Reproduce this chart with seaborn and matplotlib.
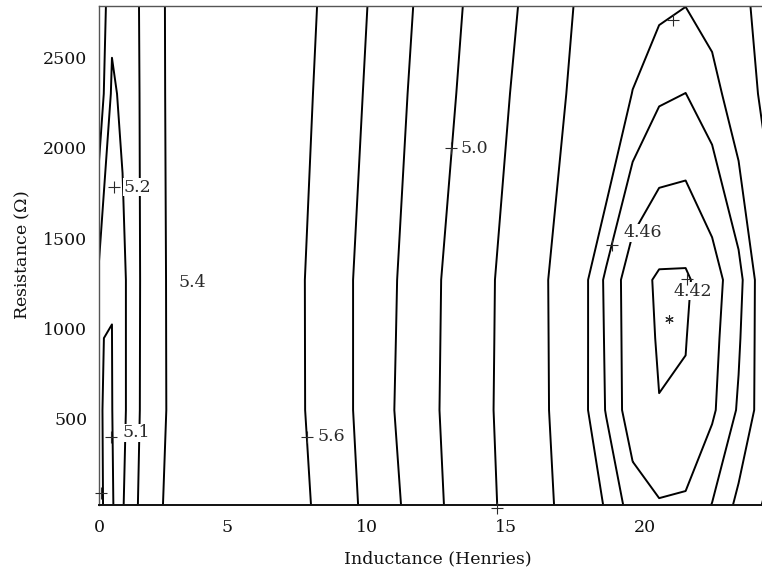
import matplotlib
matplotlib.use("Agg")
import matplotlib.pyplot as plt
import numpy as np
import seaborn as sns

# Sampling grid: inductance (H) columns and resistance (ohm) rows
inductance = [0.4, 0.87, 1.25, 1.62, 2.2, 3.3, 7.2, 8.9, 10.4, 12.1, 14.0, 16.0,
              17.9, 18.6, 19.55, 20.5, 21.45, 22.4, 23.35, 24.3]
resistance = [20, 546, 945, 1268, 2300, 2787]

# Response surface, one list per resistance row (same order as inductance)
z_r20 = [5.0131, 4.972, 5.184, 5.332, 5.551, 5.6588, 5.7042, 5.4855, 5.3252, 5.0718,
         4.8712, 4.6648, 4.4961, 4.477, 4.4505, 4.4415, 4.4431, 4.4606, 4.4852, 4.6166]
z_r546 = [5.0019, 4.995, 5.151, 5.302, 5.5294, 5.6547, 5.663, 5.4845, 5.2801, 5.0531,
          4.859, 4.6482, 4.4816, 4.4587, 4.4275, 4.4204, 4.4219, 4.4364, 4.4625, 4.4922]
z_r945 = [5.0005, 4.9992, 5.1521, 5.2997, 5.5274, 5.6575, 5.6661, 5.4769, 5.2908, 5.0558,
          4.8641, 4.6462, 4.4818, 4.4572, 4.4274, 4.4187, 4.4194, 4.4333, 4.4574, 4.4947]
z_r1268 = [5.1668, 5.0026, 5.153, 5.2979, 5.5257, 5.6597, 5.6687, 5.4708, 5.2995, 5.0579,
           4.8682, 4.6445, 4.4819, 4.4559, 4.4274, 4.4174, 4.4173, 4.4308, 4.4532, 4.4967]
z_r2300 = [5.539, 5.168, 5.2349, 5.3353, 5.4925, 5.6969, 5.6974, 5.5094, 5.3399, 5.1187,
           4.9177, 4.7128, 4.5295, 4.5144, 4.4788, 4.4631, 4.4598, 4.4710, 4.4951, 4.6383]
z_r2787 = [5.58, 5.246, 5.2735, 5.353, 5.4769, 5.7145, 5.711, 5.5276, 5.359, 5.1474,
           4.941, 4.745, 4.552, 4.542, 4.5031, 4.4847, 4.4802, 4.4899, 4.5148, 4.7051]

levels = [4.42, 4.44, 4.46, 4.48, 4.6, 4.8, 5.0, 5.2, 5.4, 5.6]

# Contour labels: anchor point (+), text position and text
label_anchor_L = [0.944, 0.836, 7.869, 13.036, 18.812, 21.503]
label_anchor_R = [1783, 397, 397, 1999, 1461, 1273]
label_text_L = [1.787, 1.733, 8.748, 13.861, 19.907, 21.719, 3.760]
label_text_R = [1783, 419, 397, 1999, 1528, 1206, 1251]
label_text = ["5.2", "5.1", "5.6", "5.0", "4.46", "4.42", "5.4"]

# Label anchors whose text falls outside the frame
extra_anchor_L = [0.477, 14.686, 21.0]
extra_anchor_R = [86, 3, 2709]

# Location of the minimum
min_L = [20.857]
min_R = [1051]

x_ticks = [0.405, 5, 10, 15, 20]
x_ticklabels = ["0", "5", "10", "15", "20"]
y_ticks = [500, 1000, 1500, 2000, 2500]

sns.set_theme(style="white")
plt.rcParams["font.family"] = ["DejaVu Serif"]
plt.rcParams["mathtext.fontset"] = "dejavuserif"

fig = plt.figure(figsize=(7.62, 5.78), dpi=100)
ax = fig.add_axes([99 / 762, 73 / 578, 663 / 762, 499 / 578])

Z = np.array([z_r20, z_r546, z_r945, z_r1268, z_r2300, z_r2787])
ax.contour(inductance, resistance, Z, levels=levels, colors="black",
           linewidths=1.4, zorder=2)

ink = "#2a2a2a"
for tl, tr, tx in zip(label_text_L, label_text_R, label_text):
    ax.text(tl, tr, tx, ha="center", va="center", fontsize=12.5, color=ink,
            zorder=4, bbox=dict(facecolor="white", edgecolor="none", pad=0.6))

sns.scatterplot(x=label_anchor_L + extra_anchor_L, y=label_anchor_R + extra_anchor_R,
                marker="+", s=75, color=ink, linewidth=0.8, ax=ax, zorder=5,
                legend=False)
ax.collections[-1].set_clip_on(False)
sns.scatterplot(x=min_L, y=min_R, marker=(6, 2, 0), s=30, color=ink,
                linewidth=0.8, ax=ax, zorder=5, legend=False)

ax.set_xlim(0.405, 24.19)
ax.set_ylim(19.4, 2787)
ax.set_xticks(x_ticks)
ax.set_xticklabels(x_ticklabels)
ax.set_yticks(y_ticks)
ax.tick_params(axis="both", direction="in", length=12, width=0.8, colors="#444444",
               labelcolor="#111111", labelsize=12.5)
ax.tick_params(axis="x", pad=10)
ax.tick_params(axis="y", pad=8.5)

for side in ["left", "top"]:
    ax.spines[side].set_color("#555555")
    ax.spines[side].set_linewidth(1.0)
ax.spines["bottom"].set_color("#111111")
ax.spines["bottom"].set_linewidth(1.4)
ax.spines["right"].set_visible(False)

ax.set_xlabel("Inductance (Henries)", fontsize=12.5, color="#111111")
ax.set_ylabel("Resistance ($\\mathit{\\Omega}$)", fontsize=12.5, color="#111111")
ax.xaxis.set_label_coords((437.5 - 99) / 663, (505 - 550) / 499)
ax.yaxis.set_label_coords((32 - 99) / 663, 0.5)

fig.savefig("out.png", dpi=100)
